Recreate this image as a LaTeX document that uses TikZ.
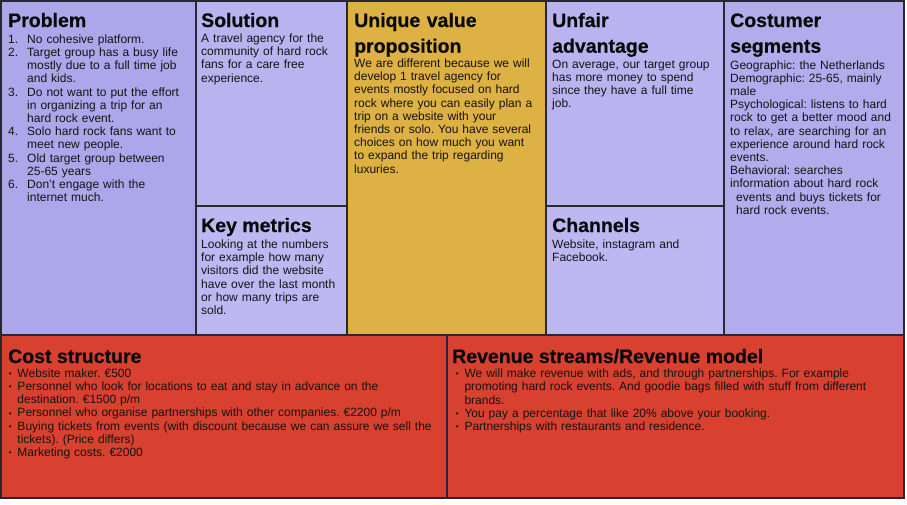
\documentclass[tikz,border=0pt]{standalone}
\usepackage{fontspec}
\setmainfont{Liberation Sans}
\newfontfamily\headfont{Liberation Sans}[BoldFeatures={FakeBold=0.6}]

% canvas palette
\definecolor{probfill}{HTML}{ACA6EA}
\definecolor{solfill}{HTML}{B9B3EF}
\definecolor{keyfill}{HTML}{BDB8F1}
\definecolor{uvpfill}{HTML}{DDB144}
\definecolor{unffill}{HTML}{B9B3EF}
\definecolor{chanfill}{HTML}{BDB8F1}
\definecolor{segfill}{HTML}{B2ACEC}
\definecolor{redfill}{HTML}{D8402F}
\definecolor{gridline}{HTML}{2A2633}
\definecolor{inkdark}{HTML}{0A0A0A}
\definecolor{inkbody}{HTML}{141414}

% small list bullet and its hanging indent
\newcommand{\bul}{\makebox[9.3pt][l]{\hspace{0.6pt}\raisebox{0.8pt}{\fontsize{8}{8}\selectfont •}}}
\newcommand{\hang}{\hspace*{9.3pt}}
\newcommand{\num}[1]{\makebox[19pt][l]{#1}}
\newcommand{\numhang}{\hspace*{19pt}}

\begin{document}
\frenchspacing
\begin{tikzpicture}[x=1pt,y=1pt,
  box/.style={draw=gridline, line width=1.1pt, inner sep=0pt, outer sep=0pt, anchor=north west},
  head/.style={anchor=base west, inner sep=0pt, align=left, text=inkdark,
    font=\headfont\fontsize{19.5}{25.7}\selectfont\bfseries},
  body/.style={anchor=base west, inner sep=0pt, align=left, text=inkbody,
    font=\fontsize{12}{13.2}\selectfont\frenchspacing},
]
\useasboundingbox (0,0) rectangle (907,-504);
\fill[white] (0,0) rectangle (907,-504);

% canvas cells
\node[box, fill=probfill, minimum width=195, minimum height=334] (problem) at (1,-1) {};
\node[box, fill=solfill, minimum width=151, minimum height=205] (solution) at (196,-1) {};
\node[box, fill=keyfill, minimum width=151, minimum height=129] (keymetrics) at (196,-206) {};
\node[box, fill=uvpfill, minimum width=199, minimum height=334] (uvp) at (347,-1) {};
\node[box, fill=unffill, minimum width=178, minimum height=205] (unfair) at (546,-1) {};
\node[box, fill=chanfill, minimum width=178, minimum height=129] (channels) at (546,-206) {};
\node[box, fill=segfill, minimum width=180, minimum height=334] (segments) at (724,-1) {};
\node[box, fill=redfill, minimum width=446, minimum height=163] (cost) at (1,-335) {};
\node[box, fill=redfill, minimum width=457, minimum height=163] (revenue) at (447,-335) {};

% headings
\node[head] (problemhead) at (8,-27) {Problem};
\node[head] (solutionhead) at (201,-27) {Solution};
\node[head] (keyhead) at (201,-232) {Key metrics};
\node[head, text width=190] (uvphead) at (354,-27) {Unique value\\proposition};
\node[head, text width=170] (unfairhead) at (552,-27) {Unfair\\advantage};
\node[head] (chanhead) at (552,-232) {Channels};
\node[head, text width=170] (seghead) at (730,-27) {Costumer\\segments};
\node[head] (costhead) at (8,-363) {Cost structure};
\node[head] (revhead) at (452,-363) {Revenue streams/Revenue model};

% cell texts
\node[body, text width=186] (problemtext) at (8,-43.3) {%
\num{1.}No cohesive platform.\\
\num{2.}Target group has a busy life\\
\numhang mostly due to a full time job\\
\numhang and kids.\\
\num{3.}Do not want to put the effort\\
\numhang in organizing a trip for an\\
\numhang hard rock event.\\
\num{4.}Solo hard rock fans want to\\
\numhang meet new people.\\
\num{5.}Old target group between\\
\numhang 25-65 years\\
\num{6.}Don’t engage with the\\
\numhang internet much.};

\node[body, text width=145] (solutiontext) at (201,-42.5) {%
A travel agency for the\\
community of hard rock\\
fans for a care free\\
experience.};

\node[body, text width=145] (keytext) at (201,-248.5) {%
Looking at the numbers\\
for example how many\\
visitors did the website\\
have over the last month\\
or how many trips are\\
sold.};

\node[body, text width=190] (uvptext) at (354,-67.5) {%
We are different because we will\\
develop 1 travel agency for\\
events mostly focused on hard\\
rock where you can easily plan a\\
trip on a website with your\\
friends or solo. You have several\\
choices on how much you want\\
to expand the trip regarding\\
luxuries.};

\node[body, text width=170] (unfairtext) at (552,-68.3) {%
On average, our target group\\
has more money to spend\\
since they have a full time\\
job.};

\node[body, text width=170] (chantext) at (552,-248.3) {%
Website, instagram and\\
Facebook.};

\node[body, text width=172] (segtext) at (730,-69) {%
Geographic: the Netherlands\\
Demographic: 25-65, mainly\\
male\\
Psychological: listens to hard\\
rock to get a better mood and\\
to relax, are searching for an\\
experience around hard rock\\
events.\\
Behavioral: searches\\
information about hard rock\\
\hspace*{6pt}events and buys tickets for\\
\hspace*{6pt}hard rock events.};

\node[body, text width=436] (costtext) at (8,-377.3) {%
\bul Website maker. €500\\
\bul Personnel who look for locations to eat and stay in advance on the\\
\hang destination. €1500 p/m\\
\bul Personnel who organise partnerships with other companies. €2200 p/m\\
\bul Buying tickets from events (with discount because we can assure we sell the\\
\hang tickets). (Price differs)\\
\bul Marketing costs. €2000};

\node[body, text width=445] (revtext) at (455,-377.6) {%
\bul We will make revenue with ads, and through partnerships. For example\\
\hang promoting hard rock events. And goodie bags filled with stuff from different\\
\hang brands.\\
\bul You pay a percentage that like 20\% above your booking.\\
\bul Partnerships with restaurants and residence.};
\end{tikzpicture}
\end{document}
